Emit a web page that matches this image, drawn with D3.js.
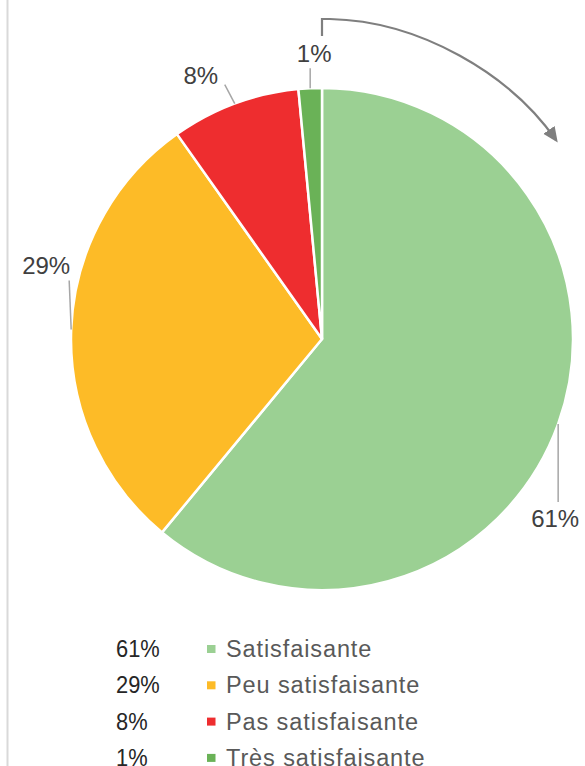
<!DOCTYPE html>
<html>
<head>
<meta charset="utf-8">
<script src="https://cdn.jsdelivr.net/npm/d3@7"></script>
<style>
  html, body { margin: 0; padding: 0; background: #fff; }
  svg { display: block; }
</style>
</head>
<body>
<svg id="chart" width="585" height="766"></svg>
<script>
// data
var categories = ["Satisfaisante", "Peu satisfaisante", "Pas satisfaisante", "Très satisfaisante"];
var values     = [61.0, 29.2, 8.3, 1.5];
var pctLabels  = ["61%", "29%", "8%", "1%"];
var colors     = ["#9bd093", "#fdbb27", "#ee2d2f", "#6ab257"];

var svg = d3.select("#chart");
var cx = 322, cy = 339, r = 251;

//left frame line
svg.append("line")
    .attr("x1", 7.5).attr("x2", 7.5)
    .attr("y1", 0).attr("y2", 766)
    .attr("stroke", "#d9d9d9")
    .attr("stroke-width", 2);

var pie = d3.pie().sort(null).value(function(d) { return d; });
var arcs = pie(values);

var arc = d3.arc().innerRadius(0).outerRadius(r);

var g = svg.append("g")
    .attr("transform", "translate(" + cx + "," + cy + ")");

g.selectAll("path.slice")
    .data(arcs)
    .enter().append("path")
    .attr("class", "slice")
    .attr("d", arc)
    .attr("fill", function(d, i) { return colors[i]; })
    .attr("stroke", "#fff")
    .attr("stroke-width", 2.5)
    .attr("stroke-linejoin", "round");

// label offsets relative to slice edge point: leader end + text anchor
var labelLayout = [
  { lx: 0,   ly: 78,  tx: -3,   ty: 103 },
  { lx: -2,  ly: -49, tx: -25,  ty: -56 },
  { lx: -10, ly: -19, tx: -34,  ty: -20 },
  { lx: 0,   ly: -20, tx: 4,    ty: -26 }
];

function edgePoint(d) {
  var a = (d.startAngle + d.endAngle) / 2;
  return [Math.sin(a) * r, -Math.cos(a) * r];
}

arcs.forEach(function(d, i) {
  var p = edgePoint(d);
  var lay = labelLayout[i];
  g.append("line")
      .attr("x1", p[0]).attr("y1", p[1])
      .attr("x2", p[0] + lay.lx).attr("y2", p[1] + lay.ly)
      .attr("stroke", "#a6a6a6")
      .attr("stroke-width", 1.5);
  g.append("text")
      .attr("x", p[0] + lay.tx)
      .attr("y", p[1] + lay.ty)
      .attr("text-anchor", "middle")
      .attr("font-family", "Liberation Sans, Arial, sans-serif")
      .attr("font-size", 24)
      .attr("fill", "#404040")
      .text(pctLabels[i]);
});

// curved arrow annotation (direction of reading)
svg.append("defs").append("marker")
    .attr("id", "head")
    .attr("viewBox", "0 0 10 10")
    .attr("refX", 8).attr("refY", 5)
    .attr("markerWidth", 7).attr("markerHeight", 7)
    .attr("markerUnits", "strokeWidth")
    .attr("orient", "auto")
  .append("path")
    .attr("d", "M0,0.5 L10,5 L0,9.5 z")
    .attr("fill", "#7f7f7f");

var ap = d3.path();
ap.moveTo(cx, cy - r - 52);
ap.lineTo(cx, cy - r - 69);
ap.lineTo(cx + 8, cy - r - 69);
ap.bezierCurveTo(cx + 98, cy - r - 67, cx + 188, cy - r - 14, cx + 234, cy - r + 52);
svg.append("path")
    .attr("d", ap.toString())
    .attr("fill", "none")
    .attr("stroke", "#7f7f7f")
    .attr("stroke-width", 2.2)
    .attr("marker-end", "url(#head)");

// legend
var legend = svg.append("g").attr("transform", "translate(0,657)");
var rowH = 36.3;

var rows = legend.selectAll("g.row")
    .data(categories)
    .enter().append("g")
    .attr("class", "row")
    .attr("transform", function(d, i) { return "translate(0," + (i * rowH) + ")"; });

rows.append("text")
    .attr("transform", "translate(116,0) scale(0.93,1)")
    .attr("font-family", "Liberation Sans, Arial, sans-serif")
    .attr("font-size", 23.5)
    .attr("fill", "#262626")
    .text(function(d, i) { return pctLabels[i]; });

rows.append("rect")
    .attr("x", 207).attr("y", -12)
    .attr("width", 8.5).attr("height", 8)
    .attr("fill", function(d, i) { return colors[i]; });

rows.append("text")
    .attr("x", 226)
    .attr("font-family", "Liberation Sans, Arial, sans-serif")
    .attr("font-size", 23.5)
    .attr("letter-spacing", 0.9)
    .attr("fill", "#595959")
    .text(function(d) { return d; });
</script>
</body>
</html>
